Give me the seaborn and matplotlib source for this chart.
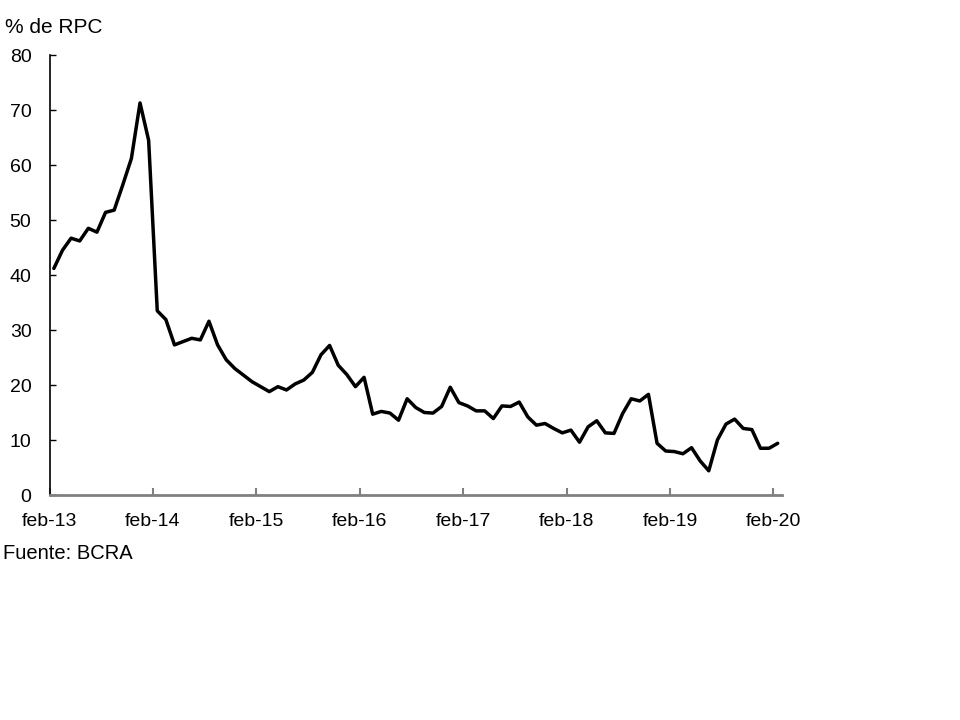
import numpy as np
import pandas as pd
import matplotlib
matplotlib.use("Agg")
import matplotlib.pyplot as plt
import seaborn as sns

# monthly values, feb-13 .. feb-20 (% de RPC)
values = [41.2, 44.5, 46.7, 46.2, 48.5, 47.8, 51.4, 51.8, 56.4, 61.2, 71.3, 64.5,
          33.5, 31.9, 27.3, 27.9, 28.5, 28.2, 31.6, 27.3, 24.6, 23.0, 21.8, 20.6,
          19.7, 18.8, 19.7, 19.1, 20.2, 20.9, 22.3, 25.5, 27.2, 23.6, 21.9, 19.7,
          21.4, 14.7, 15.2, 14.9, 13.6, 17.5, 15.9, 15.0, 14.9, 16.1, 19.6, 16.8,
          16.2, 15.3, 15.3, 13.9, 16.2, 16.1, 16.9, 14.2, 12.7, 13.0, 12.1, 11.3,
          11.8, 9.6, 12.4, 13.5, 11.3, 11.2, 14.8, 17.5, 17.1, 18.3, 9.4, 8.0,
          7.9, 7.5, 8.6, 6.2, 4.4, 10.0, 12.9, 13.8, 12.1, 11.9, 8.5, 8.5, 9.4]
tick_labels = ["feb-13", "feb-14", "feb-15", "feb-16", "feb-17", "feb-18", "feb-19", "feb-20"]

df = pd.DataFrame({"mes": np.arange(len(values)), "valor": values})

sns.set_theme(style="white")
plt.rcParams['font.family'] = ['Liberation Sans', 'DejaVu Sans']
plt.rcParams['text.color'] = 'black'
plt.rcParams['xtick.labelcolor'] = 'black'
plt.rcParams['ytick.labelcolor'] = 'black'

fig = plt.figure(figsize=(9.6, 7.2), dpi=100)
ax = fig.add_axes([0.0516, 0.3125, 0.763, 0.611])

sns.lineplot(data=df, x="mes", y="valor", color="black", linewidth=2.5, ax=ax)

ax.set_xlim(-0.5, len(values) - 0.5)
ax.set_ylim(0, 80)
ax.set_yticks(range(0, 81, 10))
ax.set_xticks([-0.5 + 12 * k for k in range(len(tick_labels))])
ax.set_xticklabels(tick_labels)
ax.set_xlabel("")
ax.set_ylabel("")

for side in ["top", "right"]:
    ax.spines[side].set_visible(False)
ax.spines["left"].set_color("black")
ax.spines["left"].set_linewidth(1.2)
ax.spines["bottom"].set_color("#808080")
ax.spines["bottom"].set_linewidth(2)

ax.tick_params(axis="y", direction="in", length=4, width=1, color="black",
               labelsize=14, pad=13, left=True, labelcolor="black")
ax.tick_params(axis="x", direction="in", length=5, width=1.5, color="#808080",
               labelsize=14, pad=13, bottom=True, labelcolor="black")

fig.text(0.005, 0.962, "% de RPC", fontsize=15, ha="left", va="center", color="black")
fig.text(0.003, 0.231, "Fuente: BCRA", fontsize=14.5, ha="left", va="center", color="black")

fig.savefig("out.png", dpi=100)
